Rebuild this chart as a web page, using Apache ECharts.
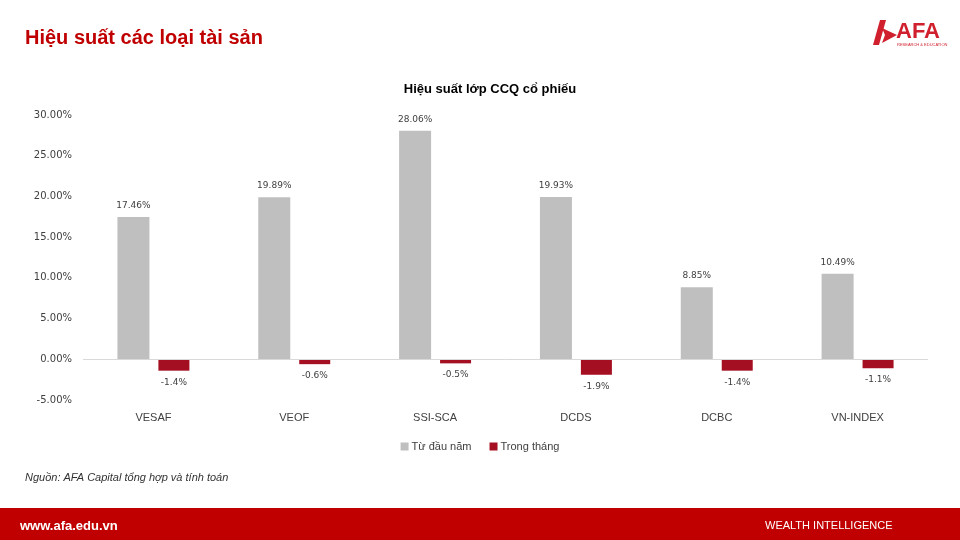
<!DOCTYPE html>
<html lang="vi">
<head>
<meta charset="UTF-8">
<title>Hiệu suất các loại tài sản</title>
<script src="https://cdn.jsdelivr.net/npm/echarts@6/dist/echarts.min.js"></script>
<style>
  body{margin:0;padding:0;background:#fff;}
  #main{width:960px;height:540px;}
</style>
</head>
<body>
<div id="main"></div>
<script>
// data (percent)
var categories = ['VESAF', 'VEOF', 'SSI-SCA', 'DCDS', 'DCBC', 'VN-INDEX'];
var ytdValues = [17.46, 19.89, 28.06, 19.93, 8.85, 10.49];
var monthValues = [-1.4, -0.6, -0.5, -1.9, -1.4, -1.1];
var seriesNames = ['Từ đầu năm', 'Trong tháng'];

var RED = '#C00000';
var labelFont = 'DejaVu Sans';
var sans = '"Liberation Sans", sans-serif';

var myChart = echarts.init(document.getElementById('main'));
var option = {
  backgroundColor: '#fff',
  animation: false,
  title: {
    text: 'Hiệu suất lớp CCQ cổ phiếu',
    left: 485, top: 78, textAlign: 'center',
    textStyle: {fontFamily: sans, fontSize: 13, fontWeight: 'bold', color: '#000'}
  },
  legend: {
    data: seriesNames,
    left: 'center', top: 436,
    itemWidth: 8, itemHeight: 8, itemGap: 18,
    icon: 'rect',
    textStyle: {fontFamily: sans, fontSize: 11, color: '#404040', padding: [0, 0, 0, -2]}
  },
  grid: {left: 83, right: 32, top: 115, bottom: 140},
  xAxis: {
    type: 'category',
    data: categories,
    axisLine: {show: false, onZero: false},
    axisTick: {show: false},
    axisLabel: {margin: 12, fontFamily: sans, fontSize: 11, color: '#404040'}
  },
  yAxis: {
    type: 'value',
    min: -5, max: 30, interval: 5,
    splitLine: {show: false},
    axisLine: {show: false},
    axisTick: {show: false},
    axisLabel: {
      margin: 11, fontFamily: labelFont, fontSize: 10, color: '#404040',
      formatter: function (v) { return v.toFixed(2) + '%'; }
    }
  },
  series: [
    {
      name: seriesNames[0],
      type: 'bar',
      data: ytdValues,
      barWidth: 32,
      barGap: '28%',
      itemStyle: {color: '#BFBFBF'},
      label: {
        show: true, position: 'top', distance: 7,
        fontFamily: labelFont, fontSize: 9, color: '#404040',
        formatter: function (p) { return p.value.toFixed(2) + '%'; }
      },
      markLine: {
        silent: true, symbol: 'none', label: {show: false},
        lineStyle: {color: '#D9D9D9', type: 'solid', width: 1},
        data: [{yAxis: 0}]
      }
    },
    {
      name: seriesNames[1],
      type: 'bar',
      data: monthValues,
      barWidth: 31,
      itemStyle: {color: '#A50F22'},
      label: {
        show: true, position: 'bottom', distance: 7,
        fontFamily: labelFont, fontSize: 9, color: '#404040',
        formatter: function (p) { return p.value.toFixed(1) + '%'; }
      }
    }
  ],
  graphic: [
    {type: 'text', left: 25, top: 28,
     style: {text: 'Hiệu suất các loại tài sản', fill: RED, font: 'bold 20px ' + sans}},
    // logo
    {type: 'polygon', shape: {points: [[873, 45], [880, 20], [886, 20], [879, 45]]}, style: {fill: '#D0202E'}},
    {type: 'polygon', shape: {points: [[882, 28], [897, 35], [882, 43], [885, 35]]}, style: {fill: '#D0202E'}},
    {type: 'text', left: 896, top: 21,
     style: {text: 'AFA', fill: '#D0202E', font: 'bold 22px ' + sans}},
    {type: 'text', left: 897, top: 43,
     style: {text: 'RESEARCH & EDUCATION', fill: '#D0202E', font: '4px ' + sans}},
    // source
    {type: 'text', left: 25, top: 472,
     style: {text: 'Nguồn: AFA Capital tổng hợp và tính toán', fill: '#333', font: 'italic 11px ' + sans}},
    // footer band
    {type: 'rect', shape: {x: 0, y: 508, width: 960, height: 32}, style: {fill: RED}},
    {type: 'text', left: 20, top: 520,
     style: {text: 'www.afa.edu.vn', fill: '#fff', font: 'bold 13px ' + sans}},
    {type: 'text', left: 765, top: 520,
     style: {text: 'WEALTH INTELLIGENCE', fill: '#fff', font: '11px ' + sans}}
  ]
};
myChart.setOption(option);
</script>
</body>
</html>
